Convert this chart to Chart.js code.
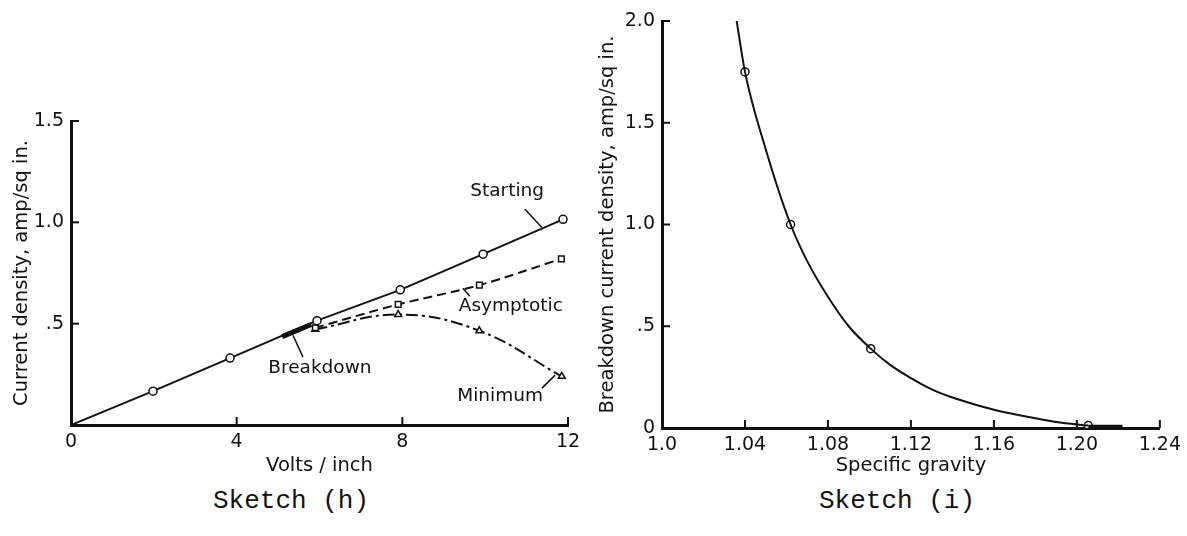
<!DOCTYPE html>
<html>
<head>
<meta charset="utf-8">
<script src="https://cdn.jsdelivr.net/npm/chart.js@4"></script>
<style>
  html, body { margin: 0; padding: 0; background: #fff; }
  body { width: 1187px; height: 536px; position: relative; overflow: hidden; }
  .box { position: absolute; top: 0; height: 480px; }
  #boxH { left: 0; width: 590px; }
  #boxI { left: 590px; width: 597px; }
  .sketch { position: absolute; top: 486px; font-family: "Liberation Mono", monospace; font-size: 26px; color: #111; }
</style>
</head>
<body>
<div class="box" id="boxH"><canvas id="chartH"></canvas></div>
<div class="box" id="boxI"><canvas id="chartI"></canvas></div>
<div class="sketch" style="left:213px">Sketch (h)</div>
<div class="sketch" style="left:819px">Sketch (i)</div>

<script>
// sketch (h): current density vs volts/inch
const voltsStarting = [0, 1.98, 3.84, 5.94, 7.95, 9.95, 11.88];
const densStarting = [0, 0.167, 0.33, 0.515, 0.667, 0.843, 1.015];
const voltsAsym = [5.9, 7.9, 9.86, 11.84];
const densAsym = [0.48, 0.595, 0.69, 0.82];
const voltsMin = [5.9, 7.9, 9.86, 11.85];
const densMin = [0.472, 0.545, 0.465, 0.24];
const voltsBreak = [5.1, 5.8];
const densBreak = [0.436, 0.496];
const voltTicks = [0, 4, 8, 12];
const densTicksH = [0, 0.5, 1.0, 1.5];

// sketch (i): breakdown current density vs specific gravity (curve)
const gravCurve = [1.036, 1.04, 1.05, 1.062, 1.07, 1.08, 1.09, 1.1006, 1.11, 1.12, 1.13, 1.14, 1.15, 1.16, 1.17, 1.18, 1.19, 1.2055];
const densCurve = [2.0, 1.75, 1.37, 1.0, 0.82, 0.645, 0.5, 0.39, 0.31, 0.245, 0.19, 0.15, 0.118, 0.09, 0.068, 0.048, 0.03, 0.012];
const gravPoints = [1.04, 1.062, 1.1006, 1.2055];
const densPoints = [1.75, 1.0, 0.39, 0.012];
const gravTail = [1.2055, 1.222];
const densTail = [0.006, 0.006];
const gravTicks = [1.0, 1.04, 1.08, 1.12, 1.16, 1.20, 1.24];
const densTicksI = [0, 0.5, 1.0, 1.5, 2.0];

const ink = "#111";
const tickFont = { family: "DejaVu Sans", size: 19 };
const titleFont = { family: "DejaVu Sans", size: 19.5 };

function pts(xs, ys) {
  return xs.map((x, i) => ({ x: x, y: ys[i] }));
}

function fmtDens(v) {
  if (v === 0) return "0";
  if (v === 0.5) return ".5";
  return v.toFixed(1);
}

// tick marks drawn inward from the axis lines
const inwardTicks = {
  id: "inwardTicks",
  afterDraw(chart) {
    const { ctx, chartArea, scales } = chart;
    ctx.save();
    ctx.strokeStyle = ink;
    ctx.lineWidth = 2;
    scales.x.ticks.forEach((t) => {
      if (t.value === scales.x.min) return;
      const px = scales.x.getPixelForValue(t.value);
      ctx.beginPath();
      ctx.moveTo(px, chartArea.bottom);
      ctx.lineTo(px, chartArea.bottom - 8);
      ctx.stroke();
    });
    scales.y.ticks.forEach((t) => {
      if (t.value === scales.y.min) return;
      const py = scales.y.getPixelForValue(t.value);
      ctx.beginPath();
      ctx.moveTo(chartArea.left, py);
      ctx.lineTo(chartArea.left + 8, py);
      ctx.stroke();
    });
    ctx.restore();
  },
};

// text notes with leader lines, placed in data units
const notes = {
  id: "notes",
  afterDatasetsDraw(chart, args, opts) {
    const { ctx, scales } = chart;
    ctx.save();
    ctx.fillStyle = ink;
    ctx.strokeStyle = ink;
    ctx.lineWidth = 1.5;
    ctx.font = "18.5px 'DejaVu Sans'";
    ctx.textAlign = "center";
    ctx.textBaseline = "middle";
    (opts.items || []).forEach((n) => {
      ctx.fillText(n.text, scales.x.getPixelForValue(n.at[0]), scales.y.getPixelForValue(n.at[1]));
      ctx.beginPath();
      ctx.moveTo(scales.x.getPixelForValue(n.lead[0][0]), scales.y.getPixelForValue(n.lead[0][1]));
      ctx.lineTo(scales.x.getPixelForValue(n.lead[1][0]), scales.y.getPixelForValue(n.lead[1][1]));
      ctx.stroke();
    });
    ctx.restore();
  },
};

function axes(opt) {
  return {
    x: {
      type: "linear",
      min: opt.xMin,
      max: opt.xMax,
      afterBuildTicks: (s) => { s.ticks = opt.xTicks.map((v) => ({ value: v })); },
      afterFit: (s) => { s.height = opt.xHeight; },
      grid: { display: false, drawTicks: false },
      border: { display: true, width: 3, color: ink },
      ticks: { color: ink, font: tickFont, padding: 6, maxRotation: 0, autoSkip: false, callback: opt.xFmt },
      title: { display: true, text: opt.xTitle, color: ink, font: titleFont, padding: { top: 0, bottom: 2 } },
    },
    y: {
      type: "linear",
      min: opt.yMin,
      max: opt.yMax,
      afterBuildTicks: (s) => { s.ticks = opt.yTicks.map((v) => ({ value: v })); },
      afterFit: (s) => { s.width = opt.yWidth; },
      grid: { display: false, drawTicks: false },
      border: { display: true, width: 3, color: ink },
      ticks: { color: ink, font: tickFont, padding: 7, autoSkip: false, callback: opt.yFmt },
      title: { display: true, text: opt.yTitle, color: ink, font: titleFont, padding: { top: opt.yTitlePad, bottom: 0 } },
    },
  };
}

const marker = { pointBackgroundColor: "#fff", pointBorderColor: ink, pointBorderWidth: 1.5 };

new Chart(document.getElementById("chartH"), {
  type: "scatter",
  data: {
    datasets: [
      Object.assign({
        label: "Starting",
        data: pts(voltsStarting, densStarting),
        showLine: true, borderColor: ink, borderWidth: 2,
        pointStyle: "circle",
        pointRadius: voltsStarting.map((v) => (v === 0 ? 0 : 4)),
      }, marker),
      Object.assign({
        label: "Asymptotic",
        data: pts(voltsAsym, densAsym),
        showLine: true, borderColor: ink, borderWidth: 2, borderDash: [9, 5],
        tension: 0.3, pointStyle: "rect", pointRadius: 4,
      }, marker),
      Object.assign({
        label: "Minimum",
        data: pts(voltsMin, densMin),
        showLine: true, borderColor: ink, borderWidth: 2, borderDash: [12, 4, 3, 4],
        tension: 0.4, pointStyle: "triangle", pointRadius: 4,
      }, marker),
      {
        label: "Breakdown",
        data: pts(voltsBreak, densBreak),
        showLine: true, borderColor: ink, borderWidth: 5, pointRadius: 0,
      },
    ],
  },
  options: {
    responsive: true,
    maintainAspectRatio: false,
    animation: false,
    layout: { padding: { top: 121, right: 22, left: 0, bottom: 0 } },
    plugins: {
      legend: { display: false },
      tooltip: { enabled: false },
      notes: {
        items: [
          { text: "Starting", at: [10.53, 1.155], lead: [[10.96, 1.065], [11.37, 0.975]] },
          { text: "Asymptotic", at: [10.62, 0.586], lead: [[9.63, 0.635], [9.46, 0.675]] },
          { text: "Breakdown", at: [6.01, 0.281], lead: [[5.6, 0.335], [5.36, 0.443]] },
          { text: "Minimum", at: [10.36, 0.143], lead: [[11.37, 0.182], [11.69, 0.246]] },
        ],
      },
    },
    scales: axes({
      xMin: 0, xMax: 12, xTicks: voltTicks, xHeight: 55, xTitle: "Volts / inch",
      xFmt: (v) => String(v),
      yMin: 0, yMax: 1.5, yTicks: densTicksH, yWidth: 71, yTitle: "Current density, amp/sq in.",
      yFmt: (v) => (v === 0 ? "" : fmtDens(v)), yTitlePad: 10,
    }),
  },
  plugins: [inwardTicks, notes],
});

new Chart(document.getElementById("chartI"), {
  type: "scatter",
  data: {
    datasets: [
      {
        label: "curve",
        data: pts(gravCurve, densCurve),
        showLine: true, borderColor: ink, borderWidth: 2, pointRadius: 0,
        cubicInterpolationMode: "monotone",
      },
      {
        label: "tail",
        data: pts(gravTail, densTail),
        showLine: true, borderColor: ink, borderWidth: 4, pointRadius: 0,
      },
      Object.assign({
        label: "points",
        data: pts(gravPoints, densPoints),
        showLine: false, pointStyle: "circle", pointRadius: 4,
      }, marker),
    ],
  },
  options: {
    responsive: true,
    maintainAspectRatio: false,
    animation: false,
    layout: { padding: { top: 21, right: 24, left: 0, bottom: 0 } },
    plugins: { legend: { display: false }, tooltip: { enabled: false } },
    scales: axes({
      xMin: 1.0, xMax: 1.24, xTicks: gravTicks, xHeight: 52, xTitle: "Specific gravity",
      xFmt: (v) => (v === 1 ? "1.0" : v.toFixed(2)),
      yMin: 0, yMax: 2.0, yTicks: densTicksI, yWidth: 72, yTitle: "Breakdown current density, amp/sq in.",
      yFmt: fmtDens, yTitlePad: 6,
    }),
  },
  plugins: [inwardTicks],
});
</script>
</body>
</html>
